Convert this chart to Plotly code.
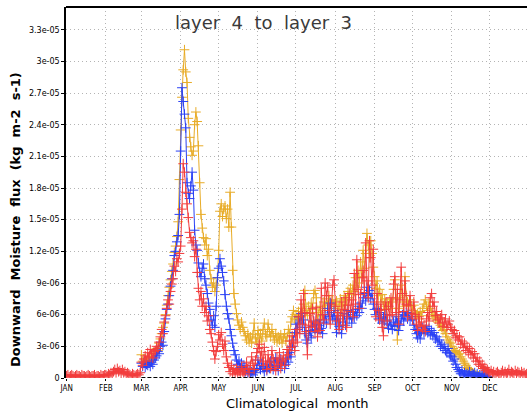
import plotly.graph_objects as go

# values in units of 1e-6 kg m-2 s-1, daily climatology (day 0 = Jan 1)
SCALE = 1e-6

red_jan = [0.2,0.3,0.1,0.2,0.3,0.2,0.1,0.2,0.3,0.2,0.2,0.1,0.3,0.2,0.2,0.1,0.2,0.3,0.2,0.1,0.2,0.2,0.3,0.1,0.2,0.2,0.1,0.3,0.2,0.2,0.3]
red_feb = [0.3,0.2,0.4,0.3,0.5,0.4,0.6,0.8,0.5,0.9,0.6,0.7,0.4,0.8,0.5,0.6,0.3,0.5,0.4,0.3,0.2,0.4,0.3,0.2,0.3,0.4,0.3,0.5]
red_mar = [1.5,1.2,1.8,2.1,1.6,2.4,2.0,2.7,2.3,1.9,2.5,
           2.6,3.0,2.8,3.4,3.9,4.6,4.2,5.3,5.9,6.6,
           7.4,7.0,8.2,8.9,9.4,10.6,10.1,11.3,11.0,11.8]
red_apr = [12.5,16.0,20.3,19.5,17.6,16.5,15.2,13.8,13.3,12.8,13.0,11.5,12.2,10.0,8.5,7.4,8.2,6.8,7.5,6.2,6.8,5.4,5.9,4.6,4.2,3.4,2.6,1.8,2.5,3.0]
red_may = [4.1,3.6,4.3,3.2,2.6,3.5,2.0,1.4,1.0,0.6,1.2,0.4,0.8,0.3,0.9,0.5,0.7,0.4,1.1,0.6,0.3,0.8,1.5,0.9,0.5,1.2,2.0,1.4,0.8,1.7,2.4]
red_jun = [2.8,3.2,1.9,2.5,1.2,2.9,1.6,0.8,2.2,1.5,0.9,2.6,1.8,1.1,0.7,1.9,1.3,2.4,0.9,1.6,2.1,1.2,1.8,2.7,2.2,3.5,2.9,4.0,3.3,2.6]
red_jul = [4.6,3.4,5.8,4.2,7.4,5.1,8.0,6.2,4.4,2.2,5.0,6.1,4.8,6.6,5.3,4.4,6.7,3.9,5.2,4.5,8.5,6.0,5.5,9.0,7.8,8.6,6.4,5.1,7.0,8.8,9.3]
red_aug = [6.8,5.4,6.2,4.6,5.9,7.2,5.0,6.5,7.6,4.8,6.9,8.0,6.3,7.4,5.8,9.9,7.0,11.2,8.4,6.6,7.9,9.5,10.2,8.1,12.8,9.2,7.6,13.0,11.4,8.8,12.2]
red_sep = [7.2,5.8,8.0,6.4,5.5,7.0,4.8,4.0,6.5,7.2,5.4,6.8,5.9,7.6,6.0,8.9,9.6,6.2,8.4,5.1,7.4,10.5,8.0,6.3,9.2,7.0,5.8,6.9,7.8,6.1]
red_oct = [5.6,7.2,6.0,5.1,4.5,5.8,4.9,5.3,4.6,5.0,4.4,5.6,6.2,5.4,7.6,8.0,6.8,7.2,5.9,6.3,5.5,5.2,5.7,6.0,4.9,5.3,5.6,4.8,5.1,5.4,4.8]
red_nov = [4.6,4.2,4.5,3.8,4.0,3.6,3.9,3.2,3.5,2.9,3.3,2.6,3.0,2.4,2.8,2.2,2.5,1.9,2.3,1.6,1.9,1.3,1.6,1.1,1.3,0.9,1.0,0.7,0.8,0.6]
red_dec = [0.5,0.7,0.4,0.6,0.3,0.5,0.6,0.4,0.3,0.5,0.7,0.4,0.6,0.3,0.5,0.8,0.4,0.6,0.5,0.3,0.7,0.4,0.6,0.5,0.3,0.6,0.4,0.5,0.3,0.4,0.5]

# blue and orange start on Mar 1 (day 59)
blue_start = 59
blue_mar = [1.4,1.1,1.5,1.0,1.3,1.2,1.6,1.1,1.5,1.3,1.7,
            1.9,2.1,2.5,2.3,3.0,3.4,3.1,4.4,5.6,6.5,
            7.0,7.8,8.7,9.4,10.2,11.6,12.0,12.9,13.5,15.5]
blue_apr = [21.5,27.5,26.2,25.0,23.7,18.5,17.5,17.0,18.2,19.5,17.8,14.0,12.6,12.1,10.9,10.0,9.6,10.4,10.8,9.4,8.8,8.0,7.1,6.5,5.5,5.0,5.9,4.8,6.8,9.5]
blue_may = [10.4,11.3,10.6,10.0,9.2,7.9,6.8,6.1,5.6,4.6,4.0,3.3,2.6,2.2,1.7,1.3,1.6,1.0,1.4,0.8,1.2,0.6,0.9,0.5,0.8,0.4,0.6,0.3,0.7,0.5,0.9]
blue_jun = [1.7,1.2,0.8,1.4,0.9,0.6,1.1,0.7,1.3,0.9,1.6,1.2,0.8,1.5,1.9,1.1,0.7,1.4,1.8,1.2,1.6,0.9,1.3,1.9,1.5,2.4,2.0,3.0,3.6,4.3]
blue_jul = [5.1,4.6,5.8,5.2,6.1,4.8,5.5,4.2,3.6,3.3,4.0,4.5,3.8,4.9,5.4,4.6,5.1,4.3,5.0,5.5,4.7,4.2,5.3,6.0,5.2,6.6,5.8,7.1,6.2,5.6,6.4]
blue_aug = [5.5,4.3,5.9,4.9,5.6,4.2,5.3,6.1,5.0,5.8,6.4,5.6,6.0,5.2,6.2,5.7,6.5,5.9,6.8,6.2,7.1,6.6,7.6,8.0,7.3,8.6,7.8,8.3,7.5,8.0,7.0]
blue_sep = [6.5,6.0,6.6,5.6,6.2,5.8,5.2,5.7,5.4,6.0,5.1,4.7,5.5,5.0,4.6,5.3,4.9,5.8,5.2,4.5,5.0,5.6,6.0,5.4,5.9,6.2,5.6,6.1,5.5,5.8]
blue_oct = [5.5,5.0,4.6,4.2,3.8,4.3,3.7,4.4,4.8,4.2,4.6,4.9,4.3,4.7,4.1,4.5,4.0,4.3,3.7,3.9,3.4,3.6,3.0,3.2,2.8,3.0,2.6,2.4,2.8,2.3,2.1]
blue_nov = [2.0,1.6,1.8,1.3,1.0,0.8,0.6,0.4,0.7,0.3,0.5,0.2,0.4,0.3,0.6,0.2,0.4,0.3,0.5,0.2,0.4,0.1,0.3,0.2,0.4,0.1,0.3,0.2,0.1,0.1]

orange_start = 59
orange_mar = [2.2,1.6,1.4,1.8,1.3,1.6,1.5,1.9,1.7,2.0,2.3,
              2.5,2.8,2.6,3.3,3.7,4.2,4.8,5.2,6.0,6.9,
              7.8,8.6,9.3,10.1,10.8,11.9,12.5,13.4,14.8,18.8]
orange_apr = [23.5,26.6,29.2,31.1,29.0,28.0,24.6,22.8,21.9,21.1,21.5,24.0,25.2,24.3,22.0,18.5,15.5,14.2,13.3,12.6,13.2,11.6,12.2,10.2,9.4,8.6,9.0,8.2,8.8,9.5]
orange_may = [12.1,15.8,16.5,15.3,16.0,16.3,15.1,16.0,14.3,17.6,14.3,10.2,8.0,7.0,6.1,5.5,5.0,4.6,5.3,4.8,4.4,4.0,3.6,4.2,3.4,3.9,3.3,4.1,5.2,3.8,3.4]
orange_jun = [4.5,3.7,4.2,3.5,4.6,5.2,4.1,3.9,5.1,4.4,3.9,4.6,4.0,3.6,4.2,3.4,3.9,3.6,4.1,3.3,3.8,4.2,3.5,3.9,4.6,4.2,5.3,5.8,6.4,5.6]
orange_jul = [6.0,5.5,6.3,5.8,6.6,6.1,7.0,8.3,6.4,5.9,6.8,6.2,7.1,6.5,8.0,8.3,7.6,5.5,6.2,6.8,5.9,6.4,7.2,6.6,7.5,6.9,7.8,7.2,6.8,7.4,7.0]
orange_aug = [6.6,7.3,6.2,6.8,7.5,6.4,7.0,7.8,6.9,7.4,8.2,7.6,8.5,7.9,8.8,8.2,9.5,8.6,10.2,9.0,11.0,9.6,12.1,10.4,11.8,13.7,12.6,11.4,13.0,11.8,10.5]
orange_sep = [9.6,8.5,9.2,7.8,8.4,7.2,7.9,6.8,7.5,6.5,7.1,6.8,7.4,6.6,7.2,8.4,9.3,7.5,3.6,6.6,7.6,8.8,7.2,6.8,9.6,7.8,7.2,6.9,7.4,6.8]
orange_oct = [6.4,6.9,6.2,5.8,6.1,5.6,6.3,5.9,6.6,7.0,7.4,6.8,6.4,7.2,6.6,6.2,5.8,6.0,5.6,5.8,5.3,5.5,5.0,4.8,4.5,4.6,4.2,3.9,3.6,3.4,3.3]
orange_nov = [3.0,2.8,2.6,2.4,2.5,2.2,2.3,2.0,1.8,1.6,1.4,1.2,1.0,0.9,0.8,0.6,0.5,0.4,0.3,0.3,0.2,0.2,0.1,0.1,0.1,0.1,0.1,0.1,0.1,0.1]

# zero reference line (black dashed) span
zero_days = [59, 336]
zero_vals = [0.0, 0.0]

month_days = [0, 31, 59, 90, 120, 151, 181, 212, 243, 273, 304, 334]
month_labels = ["JAN", "FEB", "MAR", "APR", "MAY", "JUN", "JUL", "AUG", "SEP", "OCT", "NOV", "DEC"]

y_tickvals = [0, 3e-6, 6e-6, 9e-6, 1.2e-5, 1.5e-5, 1.8e-5, 2.1e-5, 2.4e-5, 2.7e-5, 3e-5, 3.3e-5]
y_ticktext = ["0", "3e-06", "6e-06", "9e-06", "1.2e-05", "1.5e-05", "1.8e-05", "2.1e-05",
              "2.4e-05", "2.7e-05", "3e-05", "3.3e-05"]

red = red_jan + red_feb + red_mar + red_apr + red_may + red_jun + red_jul + red_aug + red_sep + red_oct + red_nov + red_dec
blue = blue_mar + blue_apr + blue_may + blue_jun + blue_jul + blue_aug + blue_sep + blue_oct + blue_nov
orange = orange_mar + orange_apr + orange_may + orange_jun + orange_jul + orange_aug + orange_sep + orange_oct + orange_nov

red_x = list(range(len(red)))
blue_x = [blue_start + i for i in range(len(blue))]
orange_x = [orange_start + i for i in range(len(orange))]

COL_ORANGE = "#E8AC28"
COL_BLUE = "#2A40F5"
COL_RED = "#F23C3C"

def series(x, y, col):
    return go.Scatter(
        x=x, y=[v * SCALE for v in y], mode="lines+markers",
        line=dict(color=col, width=1),
        marker=dict(symbol="cross-thin", size=7, line=dict(color=col, width=1), color=col),
        showlegend=False, hoverinfo="skip",
    )

fig = go.Figure()
fig.add_trace(series(orange_x, orange, COL_ORANGE))
fig.add_trace(series(blue_x, blue, COL_BLUE))
fig.add_trace(series(red_x, red, COL_RED))
fig.add_trace(go.Scatter(x=zero_days, y=zero_vals, mode="lines",
                         line=dict(color="black", width=2, dash="4px,2px"),
                         showlegend=False, hoverinfo="skip"))

grid = dict(showgrid=True, gridcolor="#b4b4b4", gridwidth=1, griddash="1px,3px")
fig.update_layout(
    width=527, height=413,
    margin=dict(l=66, r=0, t=7, b=35),
    paper_bgcolor="white", plot_bgcolor="white",
    font=dict(family="DejaVu Sans", color="black"),
    xaxis=dict(range=[-0.5, 363.3], tickvals=month_days, ticktext=month_labels,
               tickfont=dict(size=8, family="DejaVu Sans Condensed, DejaVu Sans"),
               ticks="outside", ticklen=2, tickcolor="black",
               showline=False, zeroline=False, **grid),
    yaxis=dict(range=[0, 3.515e-5], tickvals=y_tickvals, ticktext=y_ticktext,
               tickfont=dict(size=8, family="DejaVu Sans"),
               ticks="outside", ticklen=3, tickcolor="black",
               showline=True, linecolor="black", linewidth=1.5, zeroline=False, **grid),
    shapes=[dict(type="line", xref="paper", yref="paper", x0=0, x1=1, y0=1, y1=1,
                 line=dict(color="black", width=2))],
    annotations=[
        dict(text="layer  4  to  layer  3", xref="paper", yref="paper",
             x=(263 - 66) / 461, y=(378 - 22) / 371, xanchor="center", yanchor="middle",
             showarrow=False, font=dict(size=18, family="DejaVu Sans", color="#3a3a3a")),
        dict(text="<b>Downward  Moisture  flux  (kg  m-2  s-1)</b>", xref="paper", yref="paper",
             x=(15 - 66) / 461, y=(378 - 220) / 371, xanchor="center", yanchor="middle",
             textangle=-90, showarrow=False, font=dict(size=13, family="DejaVu Sans")),
        dict(text="Climatological  month", xref="paper", yref="paper",
             x=(297 - 66) / 461, y=(378 - 403) / 371, xanchor="center", yanchor="middle",
             showarrow=False, font=dict(size=13, family="DejaVu Sans")),
    ],
)

fig.write_html("out.html", config={"displayModeBar": False},
               post_script="document.body.style.margin='0px';document.body.style.overflow='hidden';")
